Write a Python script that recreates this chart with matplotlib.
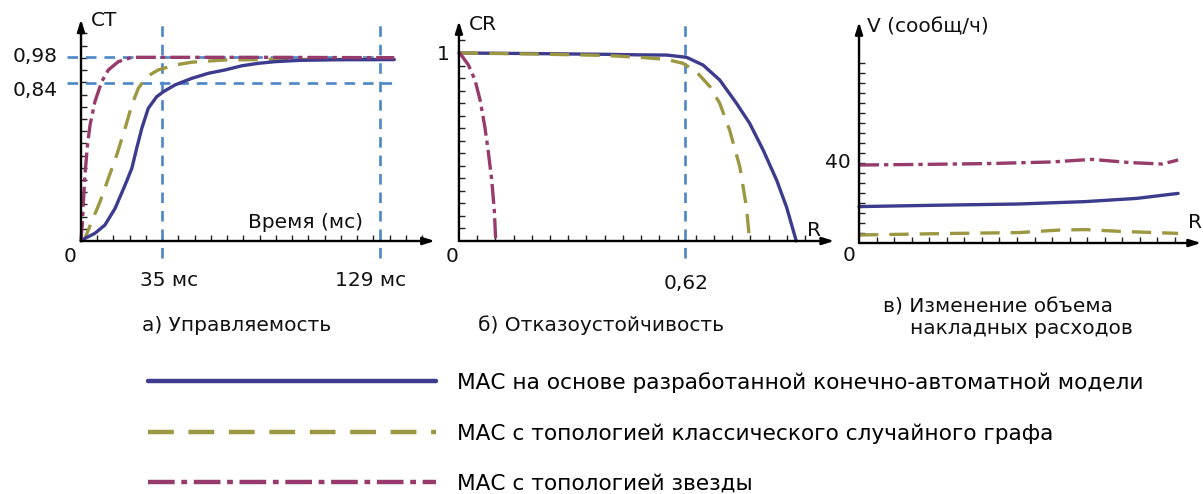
import numpy as np
import matplotlib
matplotlib.use('Agg')
import matplotlib.pyplot as plt
from matplotlib.lines import Line2D

plt.rcParams['font.family'] = ['DejaVu Sans']

# ---------------- данные ----------------
# а) Управляемость: CT(t), t в мс
t_blue = [0, 1.7, 6.0, 10.3, 14.7, 19.0, 21.9, 24.0, 26.2, 29.0, 32.6, 35.5, 40.5, 47.7,
          54.9, 62.1, 69.3, 76.4, 83.6, 94.4, 110, 135]
ct_blue = [0, 0.014, 0.041, 0.085, 0.174, 0.298, 0.387, 0.494, 0.600, 0.707, 0.768, 0.795,
           0.831, 0.866, 0.893, 0.911, 0.933, 0.946, 0.955, 0.962, 0.965, 0.966]
t_olive = [0, 1.7, 4.6, 8.2, 11.8, 15.4, 19.0, 21.9, 24.7, 28.3, 33.3, 40.5, 47.7, 62.1,
           83.6, 110, 135]
ct_olive = [0, 0.014, 0.103, 0.209, 0.334, 0.458, 0.600, 0.724, 0.813, 0.875, 0.911, 0.937,
            0.952, 0.964, 0.967, 0.967, 0.967]
t_mag = [0, 0.6, 1.0, 1.7, 2.7, 3.9, 6.0, 8.9, 11.8, 16.1, 21.9, 40, 80, 135]
ct_mag = [0, 0.1, 0.2, 0.351, 0.5, 0.618, 0.742, 0.848, 0.911, 0.955, 0.978, 0.978, 0.978, 0.976]

# б) Отказоустойчивость: CR(R)
r_blue = [0, 0.2, 0.4, 0.497, 0.570, 0.625, 0.670, 0.716, 0.762, 0.798, 0.835, 0.872,
          0.899, 0.926]
cr_blue = [1, 0.997, 0.993, 0.99, 0.989, 0.977, 0.936, 0.856, 0.732, 0.626, 0.484, 0.324,
           0.182, 0]
r_olive = [0, 0.2, 0.4, 0.497, 0.570, 0.615, 0.652, 0.689, 0.716, 0.743, 0.771, 0.789, 0.798]
cr_olive = [1, 0.995, 0.987, 0.977, 0.966, 0.945, 0.90, 0.821, 0.732, 0.590, 0.395, 0.182, 0]
r_mag = [0, 0.003, 0.026, 0.044, 0.058, 0.071, 0.080, 0.090, 0.097, 0.101]
cr_mag = [1, 0.998, 0.936, 0.856, 0.75, 0.608, 0.484, 0.324, 0.165, 0]

# в) Изменение объема накладных расходов: V(R)
u_blue = [0, 0.25, 0.5, 0.71, 0.87, 1.0]
v_blue = [18.2, 18.9, 19.5, 20.7, 22.3, 24.8]
u_olive = [0, 0.3, 0.5, 0.63, 0.71, 0.82, 1.0]
v_olive = [4, 4.8, 5.2, 6.5, 6.7, 5.8, 4.8]
u_mag = [0, 0.2, 0.4, 0.6, 0.73, 0.85, 0.95, 1.0]
v_mag = [39, 39.3, 39.7, 40.5, 41.8, 40.2, 39.5, 41.5]

ct_marks = [0.98, 0.84]
t_marks = [35, 129]
r_mark = 0.62

labels = ['МАС на основе разработанной конечно-автоматной модели',
          'МАС с топологией классического случайного графа',
          'МАС с топологией звезды']

# ---------------- стиль ----------------
W, H = 1203, 494
C_BLUE = '#3d3b8e'
C_OLIVE = '#9c9842'
C_MAG = '#973a6c'
C_GUIDE = '#4c86c6'
FS = 14.5
LW = 2.4

sty_blue = dict(color=C_BLUE, lw=LW, solid_capstyle='round', solid_joinstyle='round')
sty_olive = dict(color=C_OLIVE, lw=LW, dashes=(5.8, 3.3), dash_capstyle='butt')
sty_mag = dict(color=C_MAG, lw=LW, dashes=(6, 1.5, 1.3, 1.5), dash_capstyle='butt')
sty_guide = dict(color=C_GUIDE, lw=1.9, dashes=(4, 3))

fig = plt.figure(figsize=(W / 100, H / 100), dpi=100)


def px(x, y):
    return x / W, 1 - y / H


def make_axes(x0, x1, y0, y1, xlim, ylim):
    ax = fig.add_axes([x0 / W, 1 - y1 / H, (x1 - x0) / W, (y1 - y0) / H])
    ax.set_xlim(*xlim)
    ax.set_ylim(*ylim)
    ax.patch.set_alpha(0)
    for s in ['top', 'right']:
        ax.spines[s].set_visible(False)
    for s in ['left', 'bottom']:
        ax.spines[s].set_position(('data', 0))
        ax.spines[s].set_visible(False)
    ax.tick_params(direction='in', length=4, width=1, color='#222222',
                   labelbottom=False, labelleft=False)
    return ax


def arrows(ax, xend, yend):
    ap = dict(arrowstyle='-|>,head_length=0.7,head_width=0.22', lw=1.7,
              color='black', shrinkA=0, shrinkB=0)
    ax.annotate('', xy=(xend, 0), xytext=(0, 0), arrowprops=ap, annotation_clip=False)
    ax.annotate('', xy=(0, yend), xytext=(0, 0), arrowprops=ap, annotation_clip=False)


# ---- а) ----
ax1 = make_axes(60, 440, 15, 262, (-9.05, 154.7), (-0.1118, 1.2034))
ax1.set_xticks(np.arange(7, 150, 7))
ax1.set_yticks(np.arange(0.065, 1.15, 0.065))
for v in ct_marks:
    ax1.plot([-6, 135.3], [v, v], **sty_guide)
for t in t_marks:
    ax1.plot([t, t], [-0.09, 1.177], **sty_guide)
ax1.plot(t_olive, ct_olive, **sty_olive)
ax1.plot(t_blue, ct_blue, **sty_blue)
ax1.plot(t_mag, ct_mag, **sty_mag)
arrows(ax1, 152.5, 1.18)

# ---- б) ----
ax2 = make_axes(440, 840, 15, 262, (-0.052, 1.046), (-0.1117, 1.2021))
ax2.set_xticks(np.arange(0.05, 1.0, 0.05))
ax2.set_yticks(np.arange(1 / 15, 1.1, 1 / 15))
ax2.plot([r_mark, r_mark], [-0.09, 1.149], **sty_guide)
ax2.plot(r_blue, cr_blue, **sty_blue)
ax2.plot(r_olive, cr_olive, **sty_olive)
ax2.plot(r_mag, cr_mag, **sty_mag)
arrows(ax2, 1.03, 1.17)

# ---- в) ----
ax3 = make_axes(840, 1203, 15, 262, (-0.0596, 1.078), (-9.5, 114))
ax3.set_xticks(np.arange(0.055, 1.0, 0.055))
ax3.set_yticks(np.arange(5, 95, 5))
ax3.plot(u_olive, v_olive, **sty_olive)
ax3.plot(u_blue, v_blue, **sty_blue)
ax3.plot(u_mag, v_mag, **sty_mag)
arrows(ax3, 1.072, 110.5)

# ---------------- подписи ----------------
def label(x, y, s, ha='center', size=FS):
    fig.text(*px(x, y), s, ha=ha, va='center', fontsize=size, color='#111111')


label(91, 21, 'CT', ha='left')
label(58, 57, '0,98', ha='right')
label(58, 90, '0,84', ha='right')
label(70, 256, '0')
label(169, 281, '35 мс')
label(371, 281, '129 мс')
label(305, 222, 'Время (мс)')
label(237, 325, 'а) Управляемость')

label(469, 24, 'CR', ha='left')
label(443, 54, '1')
label(452, 257, '0')
label(686, 283, '0,62')
label(807, 230, 'R', ha='left')
label(601, 325, 'б) Отказоустойчивость')

label(867, 27, 'V (сообщ/ч)', ha='left')
label(851, 163, '40', ha='right')
label(849, 255, '0')
label(1188, 223, 'R', ha='left')
label(883, 307, 'в) Изменение объема', ha='left')
label(910, 328, 'накладных расходов', ha='left')

handles = [Line2D([], [], **dict(sty_blue, lw=3.2)),
           Line2D([], [], **dict(sty_olive, lw=3.2)),
           Line2D([], [], **dict(sty_mag, lw=3.2))]
fig.legend(handles, labels, loc='upper left', bbox_to_anchor=px(148, 372),
           frameon=False, fontsize=15.6, handlelength=13.3, handletextpad=0.96,
           labelspacing=1.4, borderpad=0, borderaxespad=0)

fig.savefig('out.png', dpi=100)
